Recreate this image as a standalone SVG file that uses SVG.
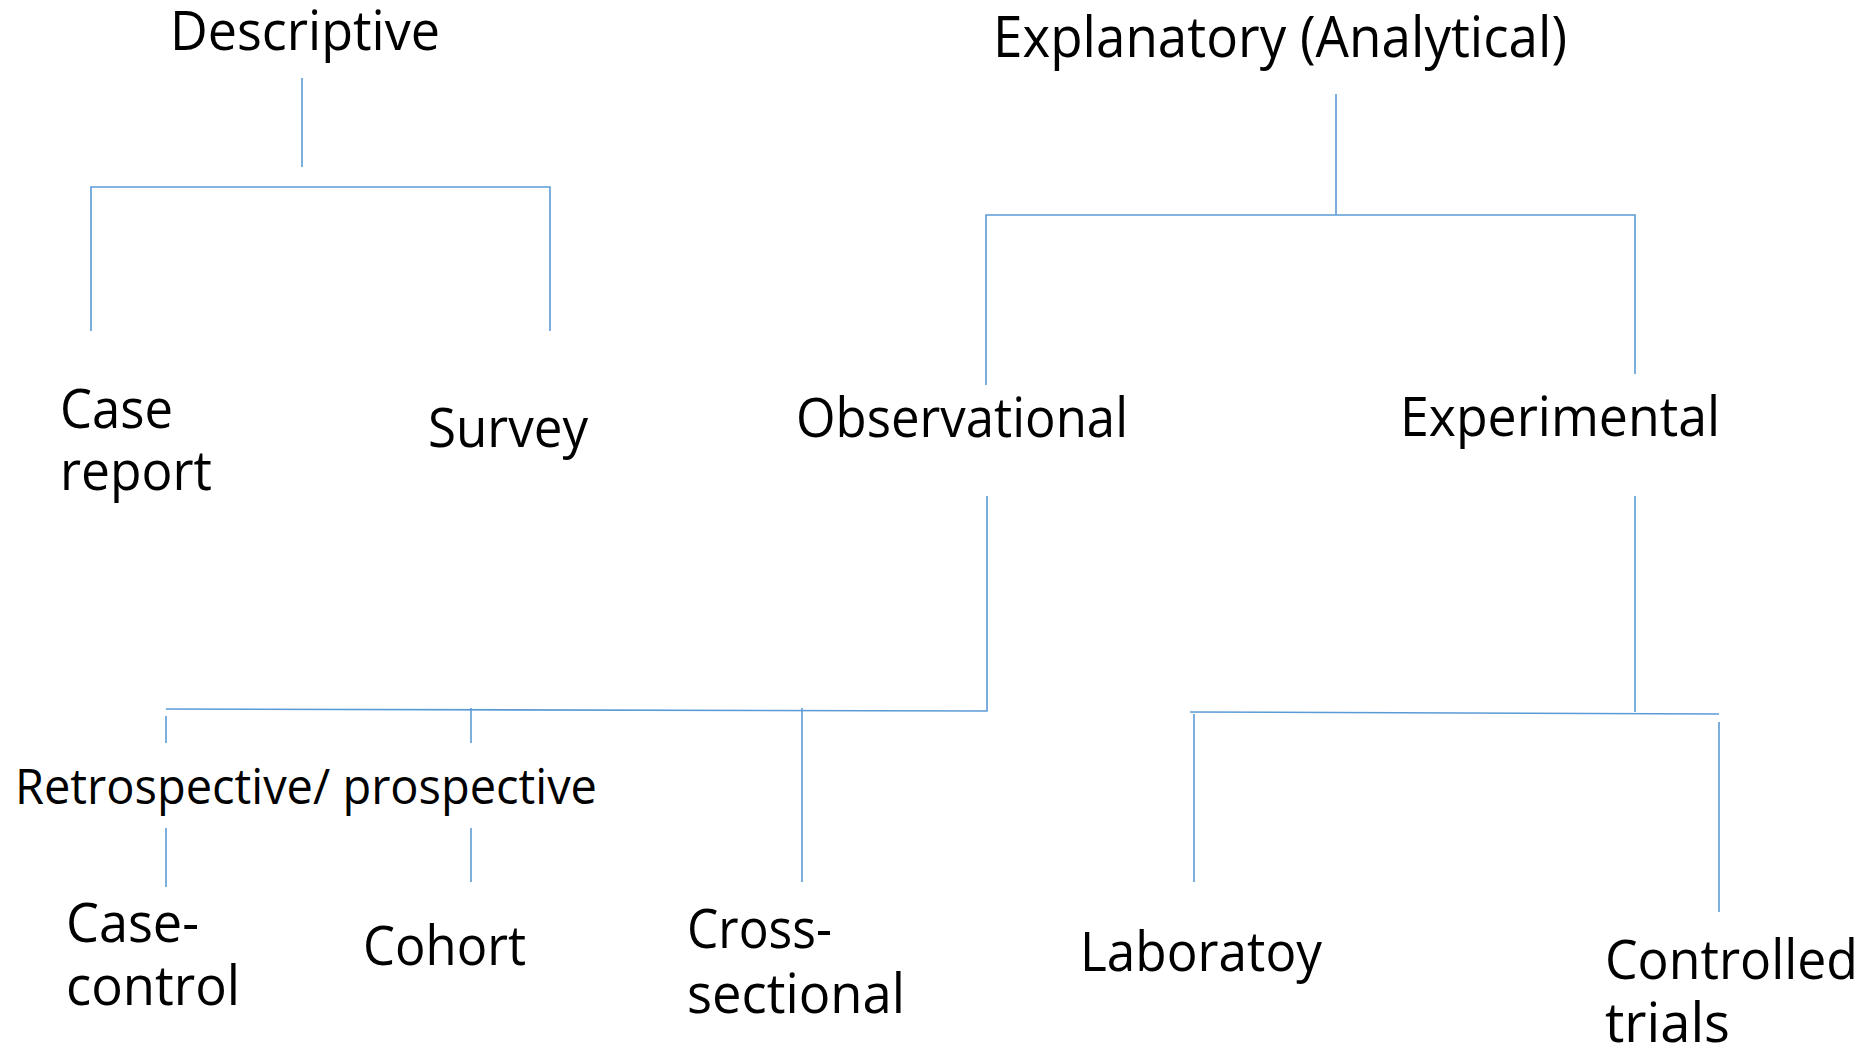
<svg xmlns="http://www.w3.org/2000/svg" width="1872" height="1048" viewBox="0 0 1872 1048">
<style>
  .bg{fill:#ffffff}
  .t{font-family:"Open Sans","Liberation Sans",sans-serif;font-size:50px;fill:#000000}
  .s{font-size:46px}
  .b{font-size:52px}
  .c{stroke:#5b9bd5;stroke-width:1.6;fill:none}
</style>
<rect class="bg" x="0" y="0" width="1872" height="1048"/>
<g id="connectors">
  <line class="c" x1="302" y1="78" x2="302" y2="167"/>
  <polyline class="c" points="91,331 91,187 550,187 550,331"/>
  <line class="c" x1="1336" y1="94" x2="1336" y2="215"/>
  <polyline class="c" points="986,385 986,215 1635,215 1635,374"/>
  <polyline class="c" points="987,496 987,711 166,709"/>
  <line class="c" x1="166" y1="716" x2="166" y2="743"/>
  <line class="c" x1="166" y1="828" x2="166" y2="887"/>
  <line class="c" x1="471" y1="708" x2="471" y2="743"/>
  <line class="c" x1="471" y1="828" x2="471" y2="882"/>
  <line class="c" x1="802" y1="708" x2="802" y2="882"/>
  <line class="c" x1="1635" y1="496" x2="1635" y2="712"/>
  <line class="c" x1="1190" y1="712" x2="1719" y2="714"/>
  <line class="c" x1="1194" y1="714" x2="1194" y2="882"/>
  <line class="c" x1="1719" y1="722" x2="1719" y2="912"/>
</g>
<g id="descriptive"><text class="t" transform="translate(170,50) scale(1,1.08)" textLength="270" lengthAdjust="spacingAndGlyphs">Descriptive</text></g>
<g id="explanatory"><text class="t b" transform="translate(993,57) scale(1,1.08)" textLength="574" lengthAdjust="spacingAndGlyphs">Explanatory (Analytical)</text></g>
<g id="case-report"><text class="t" transform="translate(60,428) scale(1,1.08)"><tspan x="0" y="0" textLength="113" lengthAdjust="spacingAndGlyphs">Case</tspan><tspan x="0" y="57.4" textLength="152" lengthAdjust="spacingAndGlyphs">report</tspan></text></g>
<g id="survey"><text class="t" transform="translate(428,447) scale(1,1.08)" textLength="160" lengthAdjust="spacingAndGlyphs">Survey</text></g>
<g id="observational"><text class="t" transform="translate(796,437) scale(1,1.08)" textLength="332" lengthAdjust="spacingAndGlyphs">Observational</text></g>
<g id="experimental"><text class="t" transform="translate(1400,436) scale(1,1.08)" textLength="320" lengthAdjust="spacingAndGlyphs">Experimental</text></g>
<g id="retro-prospective"><text class="t s" transform="translate(15,804) scale(1,1.06)" textLength="582" lengthAdjust="spacingAndGlyphs">Retrospective/ prospective</text></g>
<g id="case-control"><text class="t" transform="translate(66,942) scale(1,1.08)"><tspan x="0" y="0" textLength="133" lengthAdjust="spacingAndGlyphs">Case-</tspan><tspan x="0" y="58.3" textLength="174" lengthAdjust="spacingAndGlyphs">control</tspan></text></g>
<g id="cohort"><text class="t" transform="translate(363,965) scale(1,1.08)" textLength="163" lengthAdjust="spacingAndGlyphs">Cohort</text></g>
<g id="cross-sectional"><text class="t" transform="translate(687,948) scale(1,1.08)"><tspan x="0" y="0" textLength="145" lengthAdjust="spacingAndGlyphs">Cross-</tspan><tspan x="0" y="60.2" textLength="218" lengthAdjust="spacingAndGlyphs">sectional</tspan></text></g>
<g id="laboratoy"><text class="t" transform="translate(1080,971) scale(1,1.08)" textLength="242" lengthAdjust="spacingAndGlyphs">Laboratoy</text></g>
<g id="controlled-trials"><text class="t" transform="translate(1605,979) scale(1,1.08)"><tspan x="0" y="0" textLength="253" lengthAdjust="spacingAndGlyphs">Controlled</tspan><tspan x="0" y="58.3" textLength="125" lengthAdjust="spacingAndGlyphs">trials</tspan></text></g>
</svg>
